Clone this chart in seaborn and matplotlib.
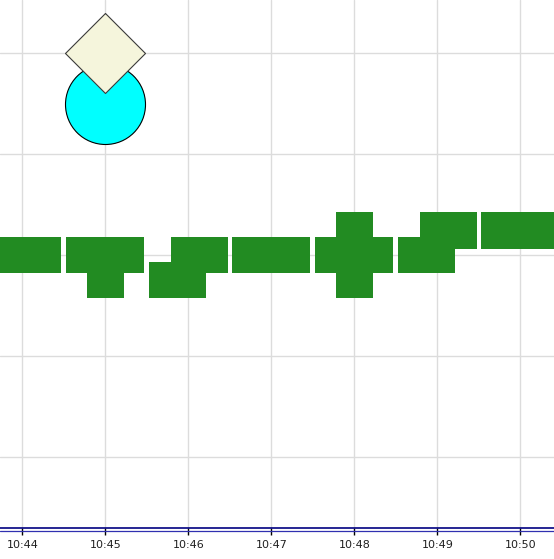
import matplotlib
matplotlib.use("Agg")
import matplotlib.pyplot as plt
from matplotlib.lines import Line2D
import numpy as np
import pandas as pd
import seaborn as sns

# ---- data ----
candle_times = ["10:44:00", "10:45:00", "10:45:52", "10:46:08", "10:47:00",
                "10:48:00", "10:48:52", "10:49:08", "10:50:00"]
candle_open  = [28.2, 28.2, 25.7, 28.2, 28.2, 28.2, 28.2, 30.6, 30.6]
candle_close = [31.8, 31.8, 29.3, 31.8, 31.8, 31.8, 31.8, 34.3, 34.3]
candle_low   = [28.2, 25.7, 25.7, 28.2, 28.2, 25.7, 28.2, 30.6, 30.6]
candle_high  = [31.8, 31.8, 29.3, 31.8, 31.8, 34.3, 31.8, 34.3, 34.3]

marker_time = ["10:45:00", "10:45:00"]
marker_value = [45.0, 50.0]
marker_kind = ["circle", "diamond"]

tick_labels = ["10:44", "10:45", "10:46", "10:47", "10:48", "10:49", "10:50"]
y_grid = [10, 20, 30, 40, 50]


def to_minutes(t):
    parts = [float(p) for p in t.split(":")]
    h, m = parts[0], parts[1]
    s = parts[2] if len(parts) > 2 else 0.0
    return (h - 10) * 60 + m + s / 60.0


df = pd.DataFrame({
    "t": [to_minutes(t) for t in candle_times],
    "open": candle_open, "close": candle_close,
    "low": candle_low, "high": candle_high,
})
df["minute"] = df["t"].round()
df["shared"] = df.groupby("minute")["t"].transform("count") > 1

sns.set_style("white")
plt.rcParams["font.family"] = ["DejaVu Sans"]

fig = plt.figure(figsize=(5.54, 5.59), dpi=100)
ax = fig.add_axes([0, 31 / 559, 1, 528 / 559])

GREEN = "#228B22"
for _, r in df.iterrows():
    body_w = 0.686 if r["shared"] else 0.94
    wick_w = 0.446
    lo_b, hi_b = min(r["open"], r["close"]), max(r["open"], r["close"])
    ax.bar(r["t"], r["high"] - r["low"], bottom=r["low"], width=wick_w,
           color=GREEN, linewidth=0, zorder=2)
    ax.bar(r["t"], hi_b - lo_b, bottom=lo_b, width=body_w,
           color=GREEN, linewidth=0, zorder=2)

mdf = pd.DataFrame({"t": [to_minutes(t) for t in marker_time],
                    "v": marker_value, "kind": marker_kind})
circ = mdf[mdf["kind"] == "circle"]
diam = mdf[mdf["kind"] == "diamond"]
sns.scatterplot(data=circ, x="t", y="v", ax=ax, marker="o", s=3318,
                color="#00FFFF", edgecolor="black", linewidth=0.8, zorder=3,
                legend=False)
sns.scatterplot(data=diam, x="t", y="v", ax=ax,
                marker=[(0, 1), (1, 0), (0, -1), (-1, 0), (0, 1)], s=3318,
                color="#F5F5DC", edgecolor="#3A3A3A", linewidth=0.8, zorder=4,
                legend=False)

ax.set_xlim(43.731, 50.404)
ax.set_ylim(2.97, 55.25)

xt = [to_minutes(t + ":00") for t in tick_labels]
ax.set_xticks(xt)
ax.set_xticklabels(tick_labels, fontsize=8, color="#202020")
ax.set_yticks(y_grid)
ax.set_yticklabels([])
ax.tick_params(axis="y", length=0)
ax.tick_params(axis="x", direction="out", length=5, width=1, color="black",
               pad=4, bottom=True)
ax.grid(True, color="#DCDCDC", linewidth=1, zorder=0)
ax.set_axisbelow(True)
ax.set_xlabel("")
ax.set_ylabel("")

for s in ["top", "left", "right"]:
    ax.spines[s].set_visible(False)
ax.spines["bottom"].set_color("#000080")
ax.spines["bottom"].set_linewidth(1.2)
y2 = (559 - 531) / 559
fig.add_artist(Line2D([0, 1], [y2, y2], transform=fig.transFigure,
                      color="#3030B0", linewidth=0.9))

fig.savefig("out.png", dpi=100)
